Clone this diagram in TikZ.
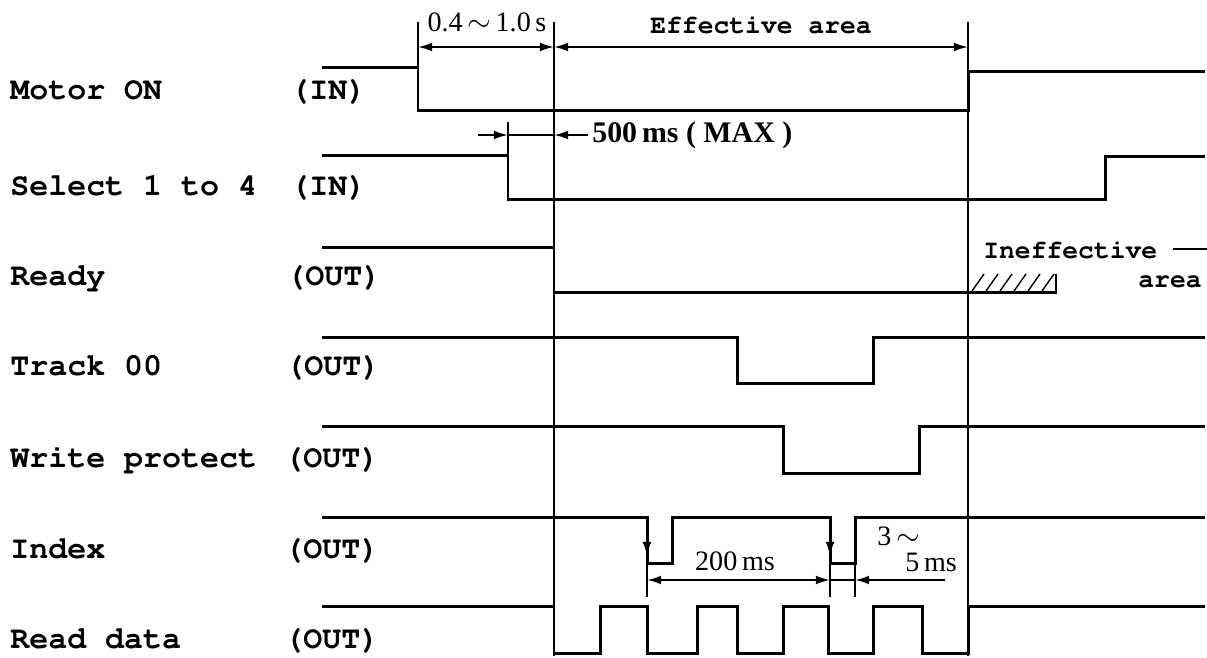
\documentclass[tikz,border=0pt]{standalone}
\usepackage[T1]{fontenc}
\usepackage{fontspec}
\setmainfont{Liberation Serif}
\usetikzlibrary{arrows.meta}

\newcommand{\cour}{\fontencoding{T1}\fontfamily{pcr}\bfseries\selectfont}

\tikzset{
  sig/.style={line width=1.7pt, line join=miter},
  guide/.style={line width=0.8pt},
  dim/.style={line width=1.1pt},
  tip/.tip={Latex[length=8pt,width=5pt]},
  lbl/.style={anchor=base west, inner sep=0pt, font=\cour\fontsize{18}{20}\selectfont},
  note/.style={anchor=base, inner sep=0pt, font=\fontsize{16}{18}\selectfont},
  tnote/.style={anchor=base, inner sep=0pt, font=\cour\fontsize{15}{17}\selectfont},
}

\begin{document}
\begin{tikzpicture}[x=0.02cm, y=-0.02cm]
      \useasboundingbox (0,0) rectangle (1207,657);
      % Signal names
      \node[lbl] (motor)  at (10,99)  {Motor ON};
      \node[lbl] (select) at (10,195) {Select 1 to 4};
      \node[lbl] (ready)  at (10,285) {Ready};
      \node[lbl] (track)  at (10,375) {Track 00};
      \node[lbl] (wprot)  at (10,467) {Write protect};
      \node[lbl] (index)  at (10,558) {Index};
      \node[lbl] (rdata)  at (10,648) {Read data};
      \node[lbl] (motorio)  at (290,99)  {(IN)};
      \node[lbl] (selectio) at (290,195) {(IN)};
      \node[lbl] (readyio)  at (286,285) {(OUT)};
      \node[lbl] (trackio)  at (285,375) {(OUT)};
      \node[lbl] (wprotio)  at (284,467) {(OUT)};
      \node[lbl] (indexio)  at (284,558) {(OUT)};
      \node[lbl] (rdataio)  at (284,648) {(OUT)};
      % Waveforms
      \draw[sig] (322,67) -- (418,67) -- (418,110) -- (968,110) -- (968,71) -- (1205,71);
      \draw[sig] (322,155) -- (508,155) -- (508,199) -- (1105,199) -- (1105,156) -- (1205,156);
      \draw[sig] (322,247) -- (554,247) -- (554,292) -- (1057,292);
      \draw[sig] (322,337) -- (737,337) -- (737,383) -- (873,383) -- (873,337) -- (1205,337);
      \draw[sig] (322,426) -- (783,426) -- (783,473) -- (919,473) -- (919,426) -- (1205,426);
      \draw[sig] (322,517) -- (647,517) -- (647,563) -- (672,563) -- (672,517) -- (830,517)
        -- (830,563) -- (855,563) -- (855,517) -- (1205,517);
      \draw[sig] (322,606) -- (554,606) -- (554,653) -- (600,653) -- (600,606) -- (647,606)
        -- (647,653) -- (697,653) -- (697,606) -- (737,606) -- (737,653) -- (783,653)
        -- (783,606) -- (828,606) -- (828,653) -- (873,653) -- (873,606) -- (922,606)
        -- (922,653) -- (968,653) -- (968,606) -- (1205,606);
      % Ineffective area
      \foreach \hx in {972,986,1000,1014,1028,1042}
        \draw[guide] (\hx,291) -- (\hx+12,274);
      \draw[guide] (1056,274) -- (1056,292);
      % Guide lines
      \coordinate (tOn)  at (418,47);
      \coordinate (tEff) at (554,47);
      \coordinate (tEnd) at (968,47);
      \draw[guide] (418,22) -- (418,67);
      \draw[guide] (554,22) -- (554,656);
      \draw[guide] (968,22) -- (968,656);
      \draw[guide] (508,122) -- (508,155);
      \draw[guide] (647,563) -- (647,597);
      \draw[guide] (830,563) -- (830,597);
      \draw[guide] (855,563) -- (855,597);
      % Dimensions
      \draw[dim, tip-tip] (tOn) -- (tEff);
      \draw[dim, tip-tip] (tEff) -- (tEnd);
      \coordinate (sA) at (478,135);
      \coordinate (sB) at (508,135);
      \coordinate (sC) at (554,135);
      \coordinate (sD) at (588,135);
      \draw[dim, -tip] (sA) -- (sB);
      \draw[dim] (sB) -- (sC);
      \draw[dim, -tip] (sD) -- (sC);
      \coordinate (iA) at (647,580);
      \coordinate (iB) at (830,580);
      \coordinate (iC) at (855,580);
      \coordinate (iD) at (945,580);
      \draw[dim, tip-tip] (iA) -- (iB);
      \draw[dim] (iB) -- (iC);
      \draw[dim, -tip] (iD) -- (iC);
      \draw[dim, -tip] (647,519) -- (647,556);
      \draw[dim, -tip] (830,519) -- (830,556);
      % Texts
      \node[note] (tmotor) at (487,31) {0.4\,$\sim$\,1.0\,s};
      \node[tnote] (teff) at (761,33) {Effective area};
      \node[note, anchor=base west, font=\bfseries\fontsize{17}{19}\selectfont] (tsel) at (592,142) {500\,ms\ ( MAX )};
      \node[tnote, anchor=base west] (tin) at (983,258) {Ineffective \rule[0.3em]{0.7cm}{1.3pt}};
      \node[tnote, anchor=base east] (tar) at (1202,287) {area};
      \node[note] (t200) at (735,570) {200\,ms};
      \node[note, anchor=base west] (t3) at (877,545) {3\,$\sim$};
      \node[note, anchor=base west] (t5) at (905,571) {5\,ms};
\end{tikzpicture}
\end{document}
